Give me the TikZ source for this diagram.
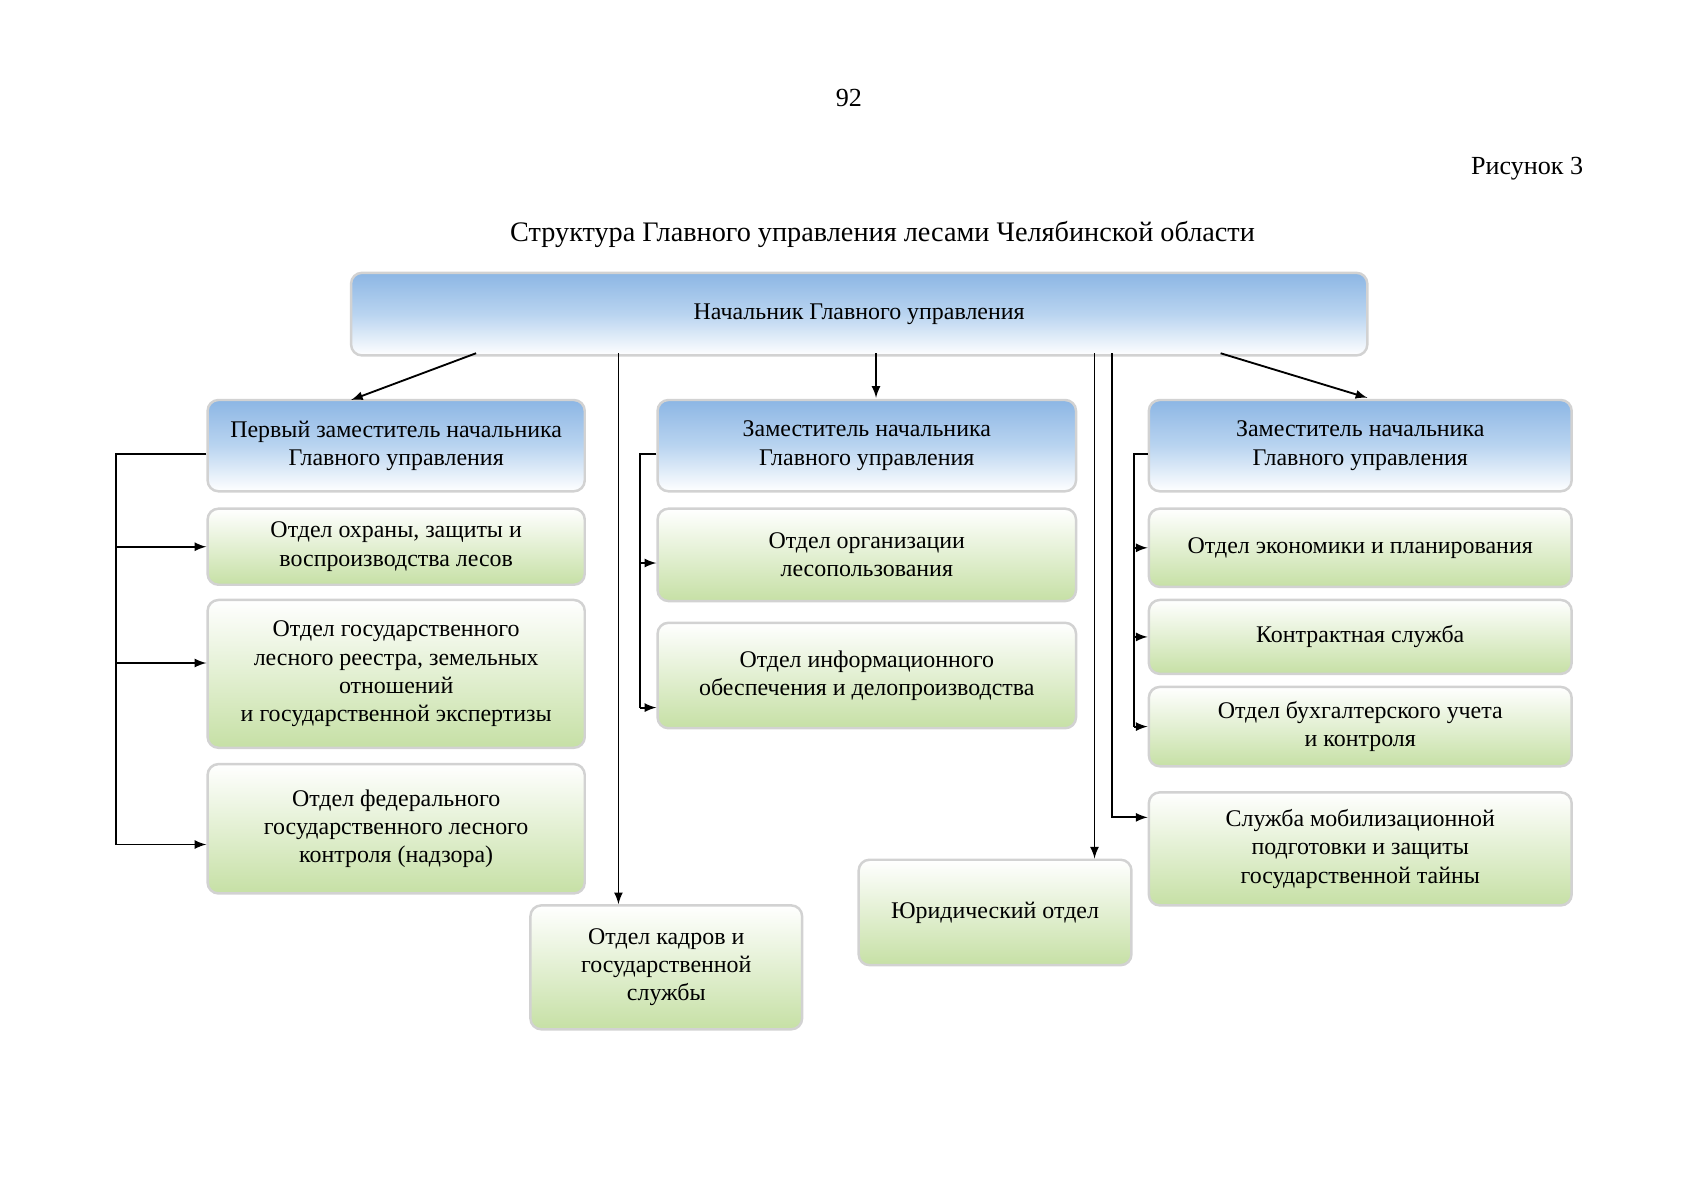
\documentclass[tikz,border=0pt]{standalone}
\usepackage{fontspec}
\setmainfont{Liberation Serif}
\usetikzlibrary{arrows}
\tikzstyle{line} = [draw, -latex]
\definecolor{bluetop}{RGB}{140,182,228}
\definecolor{bluemid}{RGB}{185,212,240}
\definecolor{greenbot}{RGB}{198,224,165}

\begin{document}
\begin{tikzpicture}[x=0.5pt, y=-0.5pt,
   box/.style={rounded corners=5pt, draw=gray!35, line width=0.4mm, align=center,
     font=\fontsize{11}{13}\selectfont, inner sep=2pt},
   blue/.style={box, top color=bluetop, bottom color=white, middle color=bluemid},
   green/.style={box, top color=white, bottom color=greenbot},
   transition/.style={-latex, line width=0.3mm}]
\useasboundingbox (0,0) rectangle (1565,1104);
\node (num) at (781,90) {\fontsize{12}{14}\selectfont 92};
\node (fig) at (1405,155) {\fontsize{12}{14}\selectfont Рисунок 3};
\node (title) at (812,216) {\fontsize{13}{15}\selectfont Структура Главного управления лесами Челябинской области};

\node[blue, minimum width=467.5pt, minimum height=38pt] (top) at (790.5,289) {Начальник Главного управления};

\node[blue, minimum width=173.5pt, minimum height=42pt] (d1) at (364.5,410) {Первый заместитель начальника\\Главного управления};
\node[blue, minimum width=192.5pt, minimum height=42pt] (d2) at (797.5,410) {Заместитель начальника\\Главного управления};
\node[blue, minimum width=194.5pt, minimum height=42pt] (d3) at (1251.5,410) {Заместитель начальника\\Главного управления};

\node[green, minimum width=173.5pt, minimum height=35pt] (g11) at (364.5,503) {Отдел охраны, защиты и\\воспроизводства лесов};
\node[green, minimum width=173.5pt, minimum height=68pt] (g12) at (364.5,620) {Отдел государственного\\лесного реестра, земельных\\отношений\\и государственной экспертизы};
\node[green, minimum width=173.5pt, minimum height=59.5pt] (g13) at (364.5,762.5) {Отдел федерального\\государственного лесного\\контроля (надзора)};

\node[green, minimum width=192.5pt, minimum height=42.5pt] (g21) at (797.5,510.5) {Отдел организации\\лесопользования};
\node[green, minimum width=192.5pt, minimum height=48.5pt] (g22) at (797.5,621.5) {Отдел информационного\\обеспечения и делопроизводства};

\node[green, minimum width=194.5pt, minimum height=36pt] (g31) at (1251.5,504) {Отдел экономики и планирования};
\node[green, minimum width=194.5pt, minimum height=34pt] (g32) at (1251.5,586) {Контрактная служба};
\node[green, minimum width=194.5pt, minimum height=36.5pt] (g33) at (1251.5,668.5) {Отдел бухгалтерского учета\\и контроля};
\node[green, minimum width=194.5pt, minimum height=52pt] (g34) at (1251.5,781) {Служба мобилизационной\\подготовки и защиты\\государственной тайны};

\node[green, minimum width=125pt, minimum height=57pt] (kad) at (613,890) {Отдел кадров и\\государственной\\службы};
\node[green, minimum width=125.5pt, minimum height=48.5pt] (yur) at (915.5,839.5) {Юридический отдел};

\coordinate (s1) at (438,325);
\coordinate (s2) at (569,325);
\coordinate (s3) at (806,325);
\coordinate (s4) at (1007,325);
\coordinate (s5) at (1023,325);
\coordinate (s6) at (1123,325);
\coordinate (b1) at (107,418);
\coordinate (b2) at (589,418);
\coordinate (b3) at (1043,418);

\path
	(s1) edge[transition] (323,368)
	(s3) edge[transition] (806,366)
	(s6) edge[transition] (1258,366)
	(s2) edge[transition] (kad.north -| s2)
	(s4) edge[transition] (yur.north -| s4)
;
\draw[transition] (s5) |- (g34.west |- 0,752);

\draw[line width=0.3mm] (d1.west |- b1) -- (b1) -- (b1 |- 0,777);
\draw[transition] (b1 |- g11.west) -- (g11.west);
\draw[transition] (b1 |- 0,610) -- (g12.west |- 0,610);
\draw[transition] (b1 |- 0,777) -- (g13.west |- 0,777);
\draw[line width=0.3mm] (d2.west |- b2) -- (b2) -- (b2 |- 0,651);
\draw[transition] (b2 |- 0,518) -- (g21.west |- 0,518);
\draw[transition] (b2 |- 0,651) -- (g22.west |- 0,651);
\draw[line width=0.3mm] (d3.west |- b3) -- (b3) -- (b3 |- g33.west);
\foreach \g in {g31,g32,g33} \draw[transition] (b3 |- \g.west) -- (\g.west);
\end{tikzpicture}
\end{document}
